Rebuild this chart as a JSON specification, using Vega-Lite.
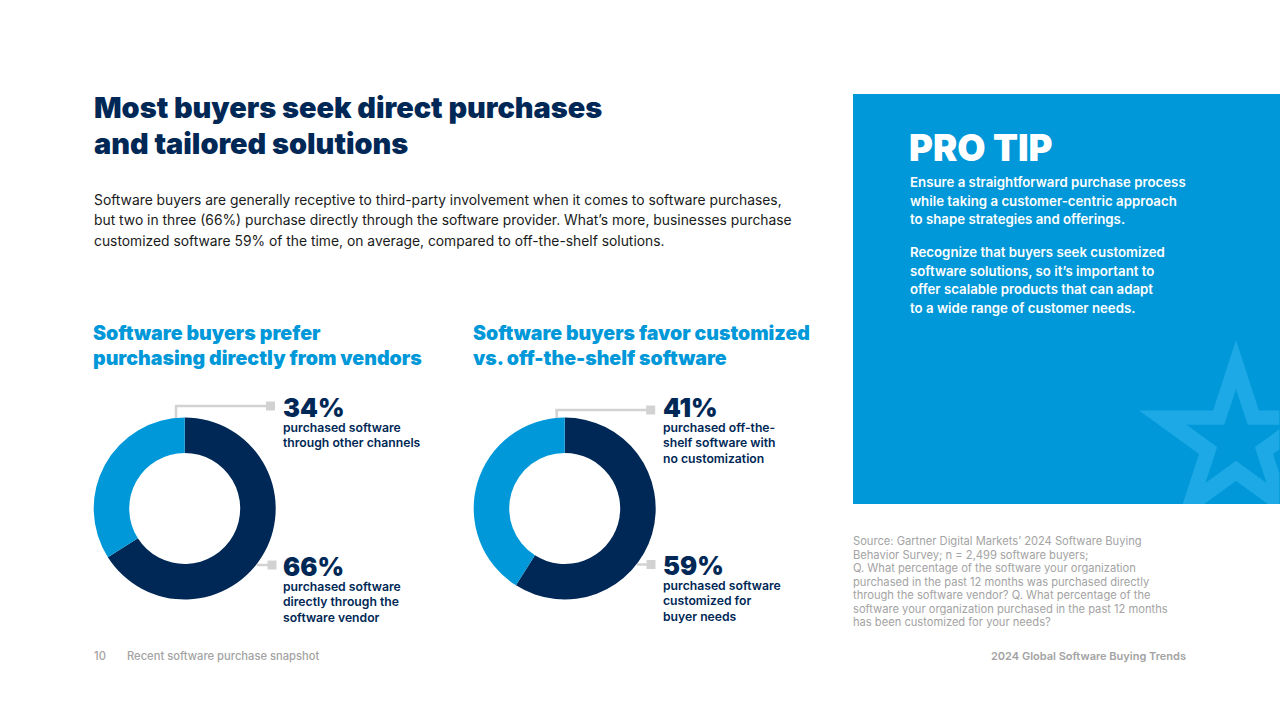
{
  "$schema": "https://vega.github.io/schema/vega-lite/v6.json",
  "width": 1280,
  "height": 719,
  "autosize": {"type": "fit", "contains": "padding"},
  "padding": 0,
  "background": "#ffffff",
  "config": {
    "view": {"stroke": null},
    "axis": {"disable": true},
    "text": {"font": "Inter", "align": "left", "baseline": "alphabetic"}
  },
  "datasets": {
    "donuts": [
      {"chart": "vendors", "segment": "main", "rank": 1, "share": 0.66, "label": ["purchased software", "directly through the", "software vendor"]},
      {"chart": "vendors", "segment": "other", "rank": 2, "share": 0.34, "label": ["purchased software", "through other channels"]},
      {"chart": "custom", "segment": "main", "rank": 1, "share": 0.59, "label": ["purchased software", "customized for", "buyer needs"]},
      {"chart": "custom", "segment": "other", "rank": 2, "share": 0.41, "label": ["purchased off-the-", "shelf software with", "no customization"]}
    ]
  },
  "layer": [
    {
      "data": {"values": [{"block": "panel"}]},
      "mark": {"type": "rect", "color": "#0098D8"},
      "encoding": {
        "x": {"datum": 853, "scale": {"domain": [0, 1280]}},
        "x2": {"datum": 1280},
        "y": {"datum": 94, "scale": {"domain": [719, 0]}},
        "y2": {"datum": 504}
      }
    },
    {
      "data": {"values": [{"block": "star"}]},
      "mark": {
        "type": "point",
        "filled": true,
        "opacity": 1,
        "color": "#1CA9E6",
        "size": 41616,
        "shape": "M0,-1L.2245,-.309L.425,-.309L.425,.073L.363,.118L.425,.3084L.425,.608L.3112,.608L0,.382L-.3112,.608L-.5226,.608L-.363,.118L-.951,-.309L-.2245,-.309ZM0,-.52L-.1145,-.168L-.485,-.168L-.185,.05L-.3,.403L0,.185L.3,.403L.185,.05L.425,-.1244L.425,-.168L.1145,-.168Z"
      },
      "encoding": {
        "x": {"datum": 1236, "scale": {"domain": [0, 1280]}},
        "y": {"datum": 442, "scale": {"domain": [719, 0]}}
      }
    },
    {
      "data": {"values": [{"lines": ["Most buyers seek direct purchases", "and tailored solutions"]}]},
      "mark": {"type": "text", "fontSize": 28.9, "fontWeight": 900, "color": "#002856", "lineHeight": 36},
      "encoding": {
        "x": {"datum": 94, "scale": {"domain": [0, 1280]}},
        "y": {"datum": 117.5, "scale": {"domain": [719, 0]}},
        "text": {"field": "lines"}
      }
    },
    {
      "data": {"values": [{"lines": ["Software buyers are generally receptive to third-party involvement when it comes to software purchases,", "but two in three (66%) purchase directly through the software provider. What’s more, businesses purchase", "customized software 59% of the time, on average, compared to off-the-shelf solutions."]}]},
      "mark": {"type": "text", "fontSize": 13.85, "fontWeight": 400, "color": "#1a1a1a", "lineHeight": 20.5},
      "encoding": {
        "x": {"datum": 94, "scale": {"domain": [0, 1280]}},
        "y": {"datum": 204.5, "scale": {"domain": [719, 0]}},
        "text": {"field": "lines"}
      }
    },
    {
      "data": {"values": [{"lines": ["Software buyers prefer", "purchasing directly from vendors"]}]},
      "mark": {"type": "text", "fontSize": 19.6, "fontWeight": 900, "color": "#0098D8", "lineHeight": 24.5},
      "encoding": {
        "x": {"datum": 93, "scale": {"domain": [0, 1280]}},
        "y": {"datum": 340, "scale": {"domain": [719, 0]}},
        "text": {"field": "lines"}
      }
    },
    {
      "data": {"values": [{"lines": ["Software buyers favor customized", "vs. off-the-shelf software"]}]},
      "mark": {"type": "text", "fontSize": 19.5, "fontWeight": 900, "color": "#0098D8", "lineHeight": 24.5},
      "encoding": {
        "x": {"datum": 473, "scale": {"domain": [0, 1280]}},
        "y": {"datum": 340, "scale": {"domain": [719, 0]}},
        "text": {"field": "lines"}
      }
    },
    {
      "data": {"name": "donuts"},
      "transform": [{"filter": "datum.chart === 'vendors'"}],
      "mark": {"type": "arc", "radius": 91, "radius2": 55.5},
      "encoding": {
        "x": {"datum": 184.7, "scale": {"domain": [0, 1280]}},
        "y": {"datum": 508.5, "scale": {"domain": [719, 0]}},
        "theta": {"field": "share", "type": "quantitative", "stack": true},
        "order": {"field": "rank"},
        "color": {"field": "segment", "type": "nominal", "legend": null, "scale": {"domain": ["main", "other"], "range": ["#002856", "#0098D8"]}}
      }
    },
    {
      "data": {"name": "donuts"},
      "transform": [{"filter": "datum.chart === 'custom'"}],
      "mark": {"type": "arc", "radius": 91, "radius2": 55.5},
      "encoding": {
        "x": {"datum": 564.7, "scale": {"domain": [0, 1280]}},
        "y": {"datum": 508.5, "scale": {"domain": [719, 0]}},
        "theta": {"field": "share", "type": "quantitative", "stack": true},
        "order": {"field": "rank"},
        "color": {"field": "segment", "type": "nominal", "legend": null, "scale": {"domain": ["main", "other"], "range": ["#002856", "#0098D8"]}}
      }
    },
    {
      "data": {"values": [{"leader": "34"}]},
      "mark": {"type": "rule", "color": "#D2D2D2", "strokeWidth": 2.5},
      "encoding": {
        "x": {"datum": 176, "scale": {"domain": [0, 1280]}},
        "y": {"datum": 406, "scale": {"domain": [719, 0]}},
        "y2": {"datum": 418}
      }
    },
    {
      "data": {"values": [{"leader": "34"}]},
      "mark": {"type": "rule", "color": "#D2D2D2", "strokeWidth": 2.5},
      "encoding": {
        "x": {"datum": 175, "scale": {"domain": [0, 1280]}},
        "x2": {"datum": 268},
        "y": {"datum": 406, "scale": {"domain": [719, 0]}}
      }
    },
    {
      "data": {"values": [{"leader": "34"}]},
      "mark": {"type": "point", "shape": "square", "filled": true, "opacity": 1, "color": "#D2D2D2", "size": 81},
      "encoding": {
        "x": {"datum": 270.5, "scale": {"domain": [0, 1280]}},
        "y": {"datum": 406, "scale": {"domain": [719, 0]}}
      }
    },
    {
      "data": {"values": [{"leader": "66"}]},
      "mark": {"type": "rule", "color": "#D2D2D2", "strokeWidth": 2.5},
      "encoding": {
        "x": {"datum": 257, "scale": {"domain": [0, 1280]}},
        "x2": {"datum": 270},
        "y": {"datum": 565, "scale": {"domain": [719, 0]}}
      }
    },
    {
      "data": {"values": [{"leader": "66"}]},
      "mark": {"type": "point", "shape": "square", "filled": true, "opacity": 1, "color": "#D2D2D2", "size": 81},
      "encoding": {
        "x": {"datum": 272, "scale": {"domain": [0, 1280]}},
        "y": {"datum": 565, "scale": {"domain": [719, 0]}}
      }
    },
    {
      "data": {"values": [{"leader": "41"}]},
      "mark": {"type": "rule", "color": "#D2D2D2", "strokeWidth": 2.5},
      "encoding": {
        "x": {"datum": 556.7, "scale": {"domain": [0, 1280]}},
        "y": {"datum": 410, "scale": {"domain": [719, 0]}},
        "y2": {"datum": 418}
      }
    },
    {
      "data": {"values": [{"leader": "41"}]},
      "mark": {"type": "rule", "color": "#D2D2D2", "strokeWidth": 2.5},
      "encoding": {
        "x": {"datum": 555.5, "scale": {"domain": [0, 1280]}},
        "x2": {"datum": 648},
        "y": {"datum": 410, "scale": {"domain": [719, 0]}}
      }
    },
    {
      "data": {"values": [{"leader": "41"}]},
      "mark": {"type": "point", "shape": "square", "filled": true, "opacity": 1, "color": "#D2D2D2", "size": 81},
      "encoding": {
        "x": {"datum": 650.7, "scale": {"domain": [0, 1280]}},
        "y": {"datum": 410, "scale": {"domain": [719, 0]}}
      }
    },
    {
      "data": {"values": [{"leader": "59"}]},
      "mark": {"type": "rule", "color": "#D2D2D2", "strokeWidth": 2.5},
      "encoding": {
        "x": {"datum": 637, "scale": {"domain": [0, 1280]}},
        "x2": {"datum": 650},
        "y": {"datum": 564.5, "scale": {"domain": [719, 0]}}
      }
    },
    {
      "data": {"values": [{"leader": "59"}]},
      "mark": {"type": "point", "shape": "square", "filled": true, "opacity": 1, "color": "#D2D2D2", "size": 81},
      "encoding": {
        "x": {"datum": 651, "scale": {"domain": [0, 1280]}},
        "y": {"datum": 564.5, "scale": {"domain": [719, 0]}}
      }
    },
    {
      "data": {"name": "donuts"},
      "transform": [{"filter": "datum.chart === 'vendors' && datum.segment === 'other'"}],
      "layer": [
        {
          "mark": {"type": "text", "fontSize": 25.5, "fontWeight": 900, "color": "#002856"},
          "encoding": {
            "x": {"datum": 283, "scale": {"domain": [0, 1280]}},
            "y": {"datum": 417, "scale": {"domain": [719, 0]}},
            "text": {"field": "share", "type": "quantitative", "format": ".0%"}
          }
        },
        {
          "mark": {"type": "text", "fontSize": 12.2, "fontWeight": 600, "color": "#002856", "lineHeight": 15.3},
          "encoding": {
            "x": {"datum": 283, "scale": {"domain": [0, 1280]}},
            "y": {"datum": 432, "scale": {"domain": [719, 0]}},
            "text": {"field": "label"}
          }
        }
      ]
    },
    {
      "data": {"name": "donuts"},
      "transform": [{"filter": "datum.chart === 'vendors' && datum.segment === 'main'"}],
      "layer": [
        {
          "mark": {"type": "text", "fontSize": 25.5, "fontWeight": 900, "color": "#002856"},
          "encoding": {
            "x": {"datum": 283, "scale": {"domain": [0, 1280]}},
            "y": {"datum": 576, "scale": {"domain": [719, 0]}},
            "text": {"field": "share", "type": "quantitative", "format": ".0%"}
          }
        },
        {
          "mark": {"type": "text", "fontSize": 12.2, "fontWeight": 600, "color": "#002856", "lineHeight": 15.3},
          "encoding": {
            "x": {"datum": 283, "scale": {"domain": [0, 1280]}},
            "y": {"datum": 591, "scale": {"domain": [719, 0]}},
            "text": {"field": "label"}
          }
        }
      ]
    },
    {
      "data": {"name": "donuts"},
      "transform": [{"filter": "datum.chart === 'custom' && datum.segment === 'other'"}],
      "layer": [
        {
          "mark": {"type": "text", "fontSize": 25.5, "fontWeight": 900, "color": "#002856"},
          "encoding": {
            "x": {"datum": 663, "scale": {"domain": [0, 1280]}},
            "y": {"datum": 417, "scale": {"domain": [719, 0]}},
            "text": {"field": "share", "type": "quantitative", "format": ".0%"}
          }
        },
        {
          "mark": {"type": "text", "fontSize": 12.2, "fontWeight": 600, "color": "#002856", "lineHeight": 15.3},
          "encoding": {
            "x": {"datum": 663, "scale": {"domain": [0, 1280]}},
            "y": {"datum": 432, "scale": {"domain": [719, 0]}},
            "text": {"field": "label"}
          }
        }
      ]
    },
    {
      "data": {"name": "donuts"},
      "transform": [{"filter": "datum.chart === 'custom' && datum.segment === 'main'"}],
      "layer": [
        {
          "mark": {"type": "text", "fontSize": 25.5, "fontWeight": 900, "color": "#002856"},
          "encoding": {
            "x": {"datum": 663, "scale": {"domain": [0, 1280]}},
            "y": {"datum": 575, "scale": {"domain": [719, 0]}},
            "text": {"field": "share", "type": "quantitative", "format": ".0%"}
          }
        },
        {
          "mark": {"type": "text", "fontSize": 12.2, "fontWeight": 600, "color": "#002856", "lineHeight": 15.3},
          "encoding": {
            "x": {"datum": 663, "scale": {"domain": [0, 1280]}},
            "y": {"datum": 590, "scale": {"domain": [719, 0]}},
            "text": {"field": "label"}
          }
        }
      ]
    },
    {
      "data": {"values": [{"lines": ["PRO TIP"]}]},
      "mark": {"type": "text", "fontSize": 36.5, "fontWeight": 900, "color": "#ffffff"},
      "encoding": {
        "x": {"datum": 909, "scale": {"domain": [0, 1280]}},
        "y": {"datum": 161, "scale": {"domain": [719, 0]}},
        "text": {"field": "lines"}
      }
    },
    {
      "data": {"values": [{"lines": ["Ensure a straightforward purchase process", "while taking a customer-centric approach", "to shape strategies and offerings."]}]},
      "mark": {"type": "text", "fontSize": 13.25, "fontWeight": 600, "color": "#ffffff", "lineHeight": 18.7},
      "encoding": {
        "x": {"datum": 910, "scale": {"domain": [0, 1280]}},
        "y": {"datum": 187, "scale": {"domain": [719, 0]}},
        "text": {"field": "lines"}
      }
    },
    {
      "data": {"values": [{"lines": ["Recognize that buyers seek customized", "software solutions, so it’s important to", "offer scalable products that can adapt", "to a wide range of customer needs."]}]},
      "mark": {"type": "text", "fontSize": 13.25, "fontWeight": 600, "color": "#ffffff", "lineHeight": 18.7},
      "encoding": {
        "x": {"datum": 910, "scale": {"domain": [0, 1280]}},
        "y": {"datum": 257, "scale": {"domain": [719, 0]}},
        "text": {"field": "lines"}
      }
    },
    {
      "data": {"values": [{"lines": ["Source: Gartner Digital Markets’ 2024 Software Buying", "Behavior Survey; n = 2,499 software buyers;", "Q. What percentage of the software your organization", "purchased in the past 12 months was purchased directly", "through the software vendor? Q. What percentage of the", "software your organization purchased in the past 12 months", "has been customized for your needs?"]}]},
      "mark": {"type": "text", "fontSize": 11.15, "fontWeight": 400, "color": "#A3A3A3", "lineHeight": 13.5},
      "encoding": {
        "x": {"datum": 853, "scale": {"domain": [0, 1280]}},
        "y": {"datum": 545, "scale": {"domain": [719, 0]}},
        "text": {"field": "lines"}
      }
    },
    {
      "data": {"values": [{"lines": ["10"]}]},
      "mark": {"type": "text", "fontSize": 11.2, "fontWeight": 500, "color": "#A3A3A3"},
      "encoding": {
        "x": {"datum": 94, "scale": {"domain": [0, 1280]}},
        "y": {"datum": 660, "scale": {"domain": [719, 0]}},
        "text": {"field": "lines"}
      }
    },
    {
      "data": {"values": [{"lines": ["Recent software purchase snapshot"]}]},
      "mark": {"type": "text", "fontSize": 11.2, "fontWeight": 500, "color": "#A3A3A3"},
      "encoding": {
        "x": {"datum": 127, "scale": {"domain": [0, 1280]}},
        "y": {"datum": 660, "scale": {"domain": [719, 0]}},
        "text": {"field": "lines"}
      }
    },
    {
      "data": {"values": [{"lines": ["2024 Global Software Buying Trends"]}]},
      "mark": {"type": "text", "fontSize": 11, "fontWeight": 600, "color": "#A3A3A3", "align": "right"},
      "encoding": {
        "x": {"datum": 1186, "scale": {"domain": [0, 1280]}},
        "y": {"datum": 660, "scale": {"domain": [719, 0]}},
        "text": {"field": "lines"}
      }
    }
  ]
}
